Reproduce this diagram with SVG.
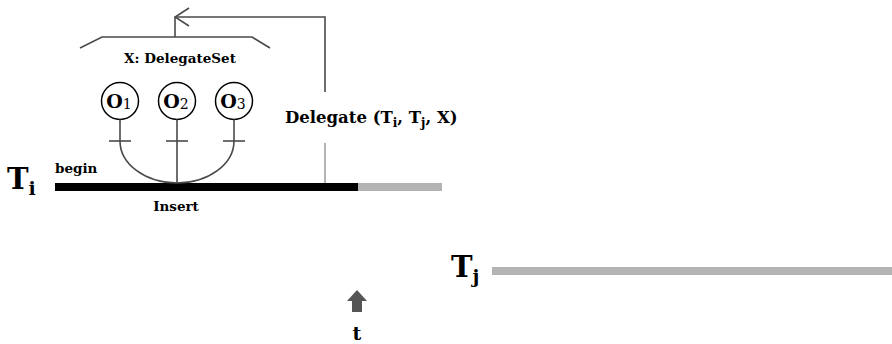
<svg xmlns="http://www.w3.org/2000/svg" width="892" height="344" viewBox="0 0 892 344">
<style>
text{font-family:"DejaVu Serif","Liberation Serif",serif;font-weight:bold;fill:#000}
.ln{fill:none;stroke:#4a4a4a;stroke-width:1.6}
.sub{font-weight:normal}
.gray{fill:#b3b3b3}
</style>
<defs>
<marker id="open" markerWidth="16" markerHeight="20" refX="15" refY="10" orient="auto" markerUnits="userSpaceOnUse">
<path d="M1,1 L15,10 L1,19" fill="none" stroke="#4a4a4a" stroke-width="1.6"/>
</marker>
</defs>
<rect width="892" height="344" fill="#fff"/>

<g id="Ti">
<text x="7" y="189" font-size="29">T<tspan font-size="19" dy="6">i</tspan></text>
<rect x="55" y="183" width="303" height="8" fill="#000"/>
<rect x="358" y="183" width="84" height="8" class="gray"/>
<text x="55" y="173" font-size="13.5">begin</text>
<text x="176" y="211" font-size="13.5" text-anchor="middle">Insert</text>
</g>

<g id="Tj">
<text x="451" y="277" font-size="29">T<tspan font-size="19" dy="6">j</tspan></text>
<rect x="492" y="267" width="400" height="8" class="gray"/>
</g>

<g id="t">
<polygon points="357,290 367,301 362,301 362,312 352,312 352,301 347,301" fill="#555"/>
<text x="357" y="340" font-size="19" text-anchor="middle">t</text>
</g>

<g id="delegateSet">
<polyline class="ln" points="80,48 102,37 252,37 270,48"/>
<text x="180" y="63" font-size="13.5" text-anchor="middle">X: DelegateSet</text>
</g>

<g id="O1">
<circle cx="120" cy="101" r="18.5" fill="#fff" stroke="#000" stroke-width="1.5"/>
<text x="119" y="108" font-size="19" text-anchor="middle">O<tspan class="sub" font-size="14" dy="1">1</tspan></text>
<line class="ln" x1="120" y1="119.5" x2="120" y2="141"/>
<line class="ln" x1="109" y1="141" x2="131" y2="141"/>
</g>
<g id="O2">
<circle cx="177" cy="101" r="18.5" fill="#fff" stroke="#000" stroke-width="1.5"/>
<text x="176" y="108" font-size="19" text-anchor="middle">O<tspan class="sub" font-size="14" dy="1">2</tspan></text>
<line class="ln" x1="177" y1="119.5" x2="177" y2="141"/>
<line class="ln" x1="166" y1="141" x2="188" y2="141"/>
</g>
<g id="O3">
<circle cx="234" cy="101" r="18.5" fill="#fff" stroke="#000" stroke-width="1.5"/>
<text x="233" y="108" font-size="19" text-anchor="middle">O<tspan class="sub" font-size="14" dy="1">3</tspan></text>
<line class="ln" x1="234" y1="119.5" x2="234" y2="141"/>
<line class="ln" x1="223" y1="141" x2="245" y2="141"/>
</g>

<g id="delegate">
<text x="285" y="123" font-size="16.5">Delegate (T<tspan font-size="12" dy="4">i</tspan><tspan dy="-4">, T</tspan><tspan font-size="12" dy="4">j</tspan><tspan dy="-4">, X)</tspan></text>
</g>

<g id="connectors">
<path class="ln" d="M120,141 A57,42 0 0 0 177,183 A57,42 0 0 0 234,141"/>
<line class="ln" x1="177" y1="141" x2="177" y2="183"/>
<line x1="325" y1="143" x2="325" y2="183" stroke="#b3b3b3" stroke-width="2"/>
<line class="ln" x1="175" y1="37" x2="175" y2="17"/>
<polyline class="ln" points="325,92 325,17 175,17" marker-end="url(#open)"/>
</g>
</svg>
